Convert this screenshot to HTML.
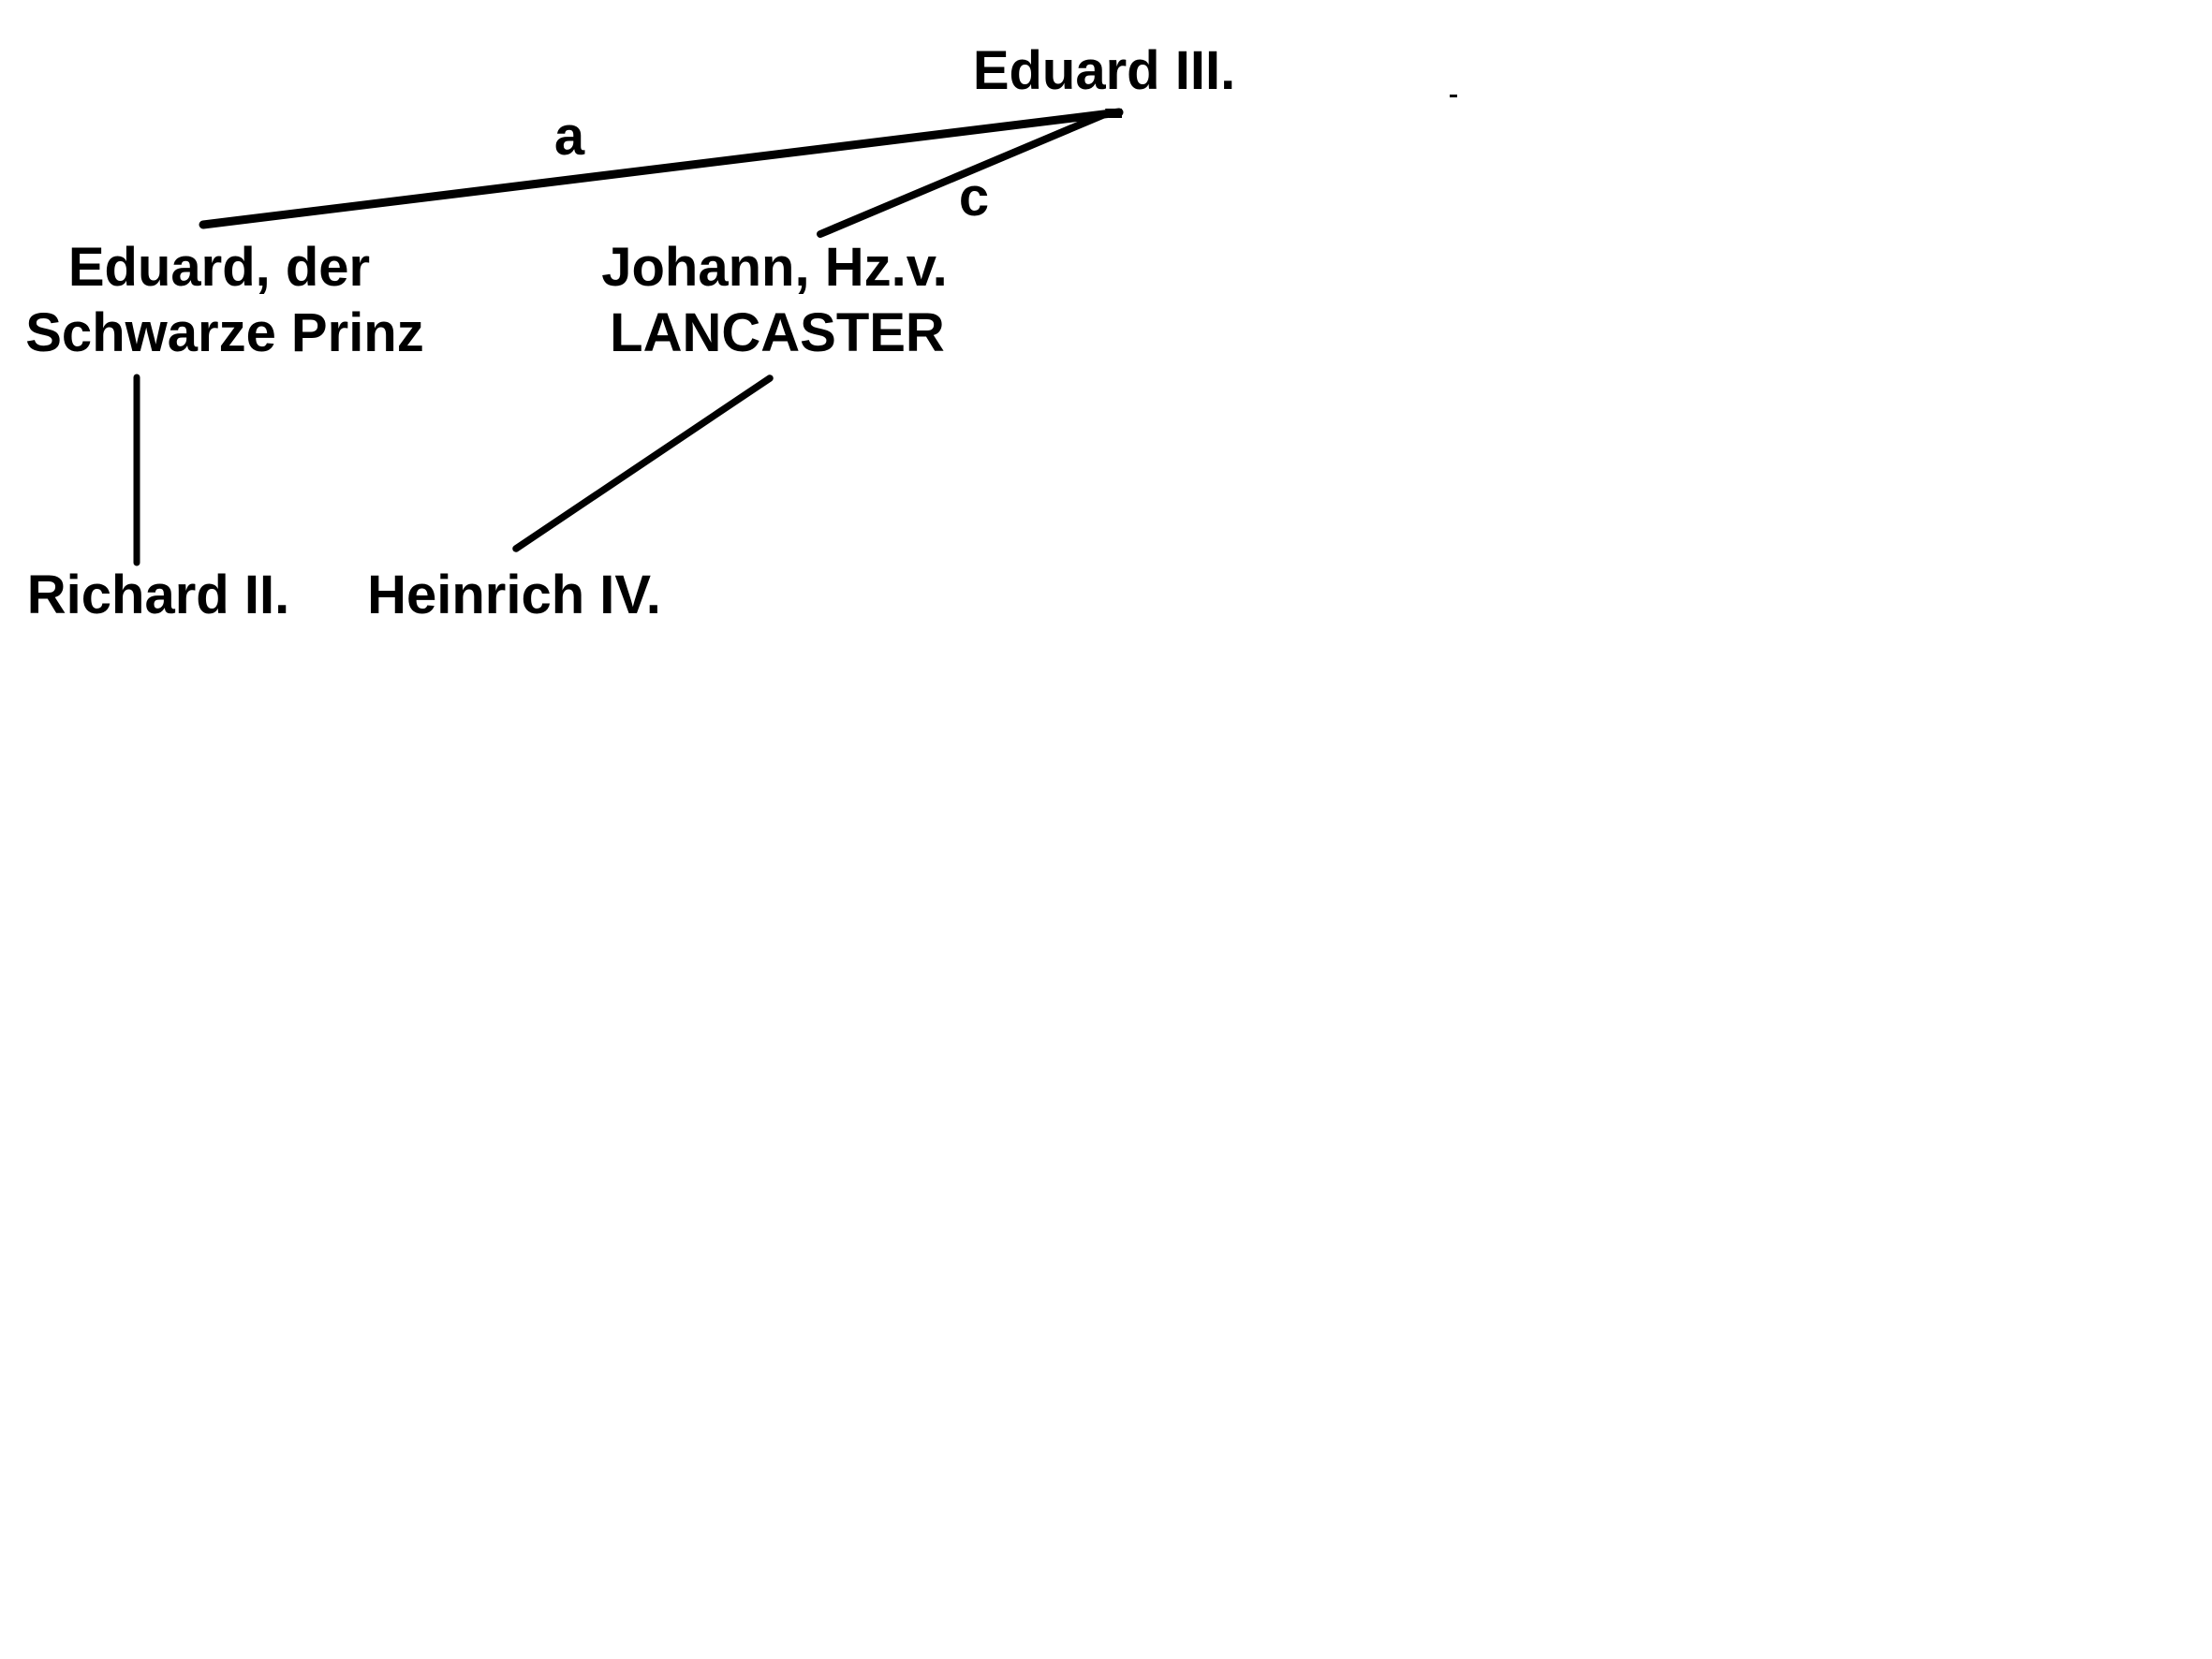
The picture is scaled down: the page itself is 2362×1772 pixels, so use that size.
<!DOCTYPE html>
<html>
<head>
<meta charset="utf-8">
<style>
  html, body { margin: 0; padding: 0; background: #ffffff; }
  body { width: 2362px; height: 1772px; overflow: hidden; }
  svg { display: block; }
  text { font-family: "Liberation Sans", Arial, sans-serif; font-weight: bold; font-size: 58px; fill: #000; }
</style>
</head>
<body>
<svg width="2362" height="1772" viewBox="0 0 2362 1772" xmlns="http://www.w3.org/2000/svg">
  <rect x="0" y="0" width="2362" height="1772" fill="#ffffff"/>

  <!-- connectors -->
  <g stroke="#000" fill="none" stroke-linecap="round" stroke-linejoin="round">
    <line x1="217" y1="240" x2="1195" y2="120" stroke-width="9"/>
    <line x1="876" y1="250" x2="1182" y2="121" stroke-width="8"/>
    <line x1="146" y1="403" x2="146" y2="601" stroke-width="7"/>
    <line x1="822" y1="404" x2="551" y2="586" stroke-width="7.5"/>
  </g>
  <polygon points="1180,116 1198,116 1198,126 1184,126" fill="#000"/>

  <!-- small dash -->
  <rect x="1548" y="101" width="8" height="3" fill="#000"/>

  <!-- labels -->
  <text x="1179" y="95" text-anchor="middle">Eduard III.</text>
  <text x="608" y="165" text-anchor="middle">a</text>
  <text x="1040" y="230" text-anchor="middle">c</text>

  <text x="234" y="305" text-anchor="middle">Eduard, der</text>
  <text x="240" y="375" text-anchor="middle">Schwarze Prinz</text>

  <text x="827" y="305" text-anchor="middle">Johann, Hz.v.</text>
  <text x="830" y="375" text-anchor="middle">LANCASTER</text>

  <text x="169" y="655" text-anchor="middle">Richard II.</text>
  <text x="549" y="655" text-anchor="middle">Heinrich IV.</text>
</svg>
</body>
</html>
